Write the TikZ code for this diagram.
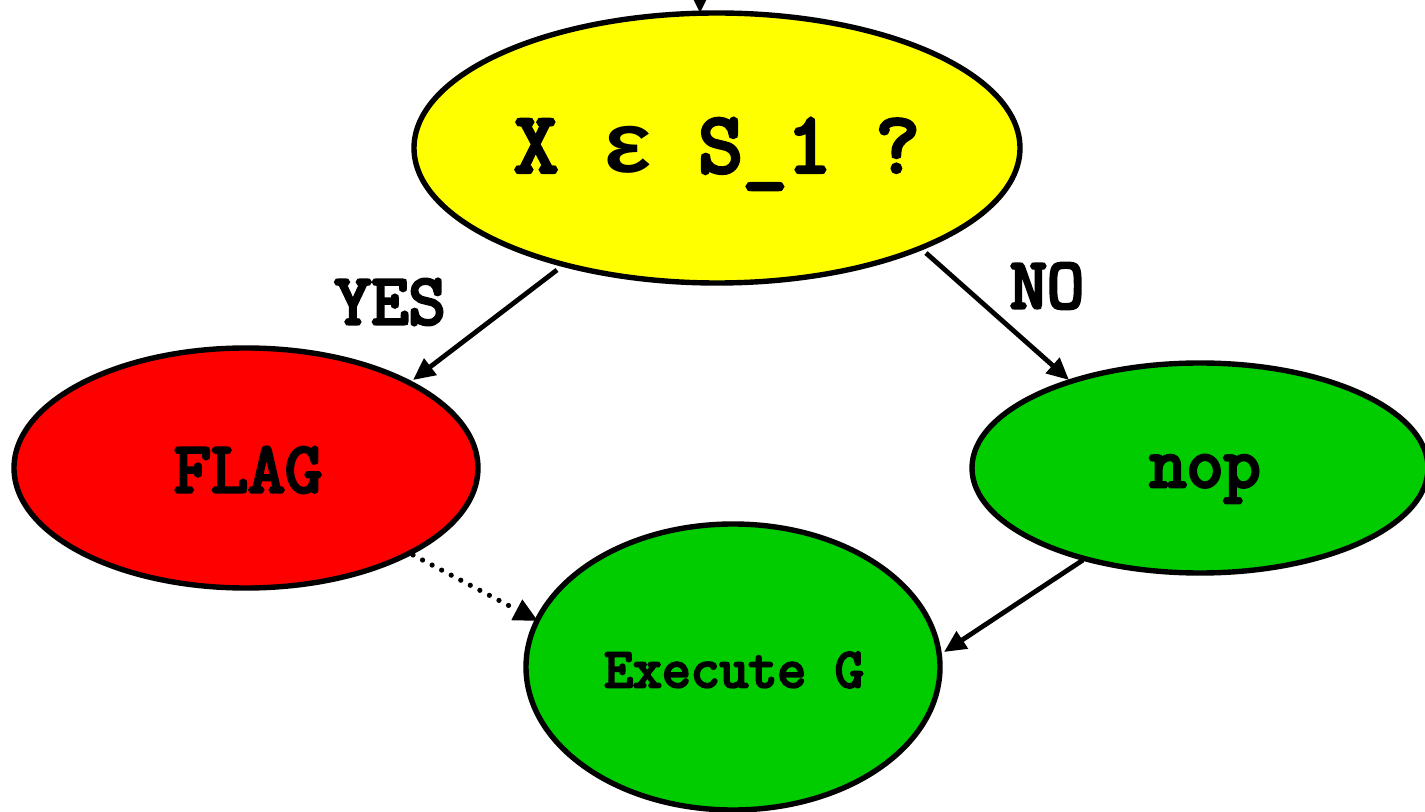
\documentclass[tikz,border=0pt]{standalone}
\usepackage{fontspec}
\newfontfamily\cour{Latin Modern Mono}[FakeBold=4.5]
\newfontfamily\grk{Liberation Mono}
\usetikzlibrary{arrows.meta}
\definecolor{leaf}{RGB}{0,204,0}
\definecolor{sun}{RGB}{255,255,0}
\definecolor{alarm}{RGB}{255,0,0}
\begin{document}
\begin{tikzpicture}[x=0.5pt,y=-0.5pt,
  oval/.style={line width=2.7pt},
  lbl/.style={font=\cour\fontsize{36}{40}\selectfont},
  link/.style={line width=2.4pt, -{Triangle[length=11pt,width=10pt]}}
]
\useasboundingbox (0,0) rectangle (1425,812);
\clip (0,0) rectangle (1425,812);
\fill[white] (0,0) rectangle (1425,812);

% ellipses
\draw[oval, fill=sun] (717,148) ellipse [x radius=303, y radius=135];
\draw[oval, fill=alarm] (246,468) ellipse [x radius=232, y radius=120];
\draw[oval, fill=leaf] (1200,468) ellipse [x radius=228, y radius=105];
\draw[oval, fill=leaf] (733,667) ellipse [x radius=207, y radius=143];

% texts
\node[font=\cour\fontsize{43}{47}\selectfont] (q) at (717,154) {X {\grk\bfseries ε} S\_1 ?};
\node[lbl] (flag) at (248,470) {FLAG};
\node[lbl] (nop) at (1205,479) {nop};
\node[font=\cour\fontsize{28}{32}\selectfont] (ex) at (734,670) {Execute G};
\node[lbl] (yes) at (390,302) {YES};
\node[lbl] (no) at (1047,286) {NO};

% connectors
\coordinate (in0) at (700,-40);
\coordinate (in1) at (700,13);
\coordinate (ya) at (557,270);
\coordinate (yb) at (413,380);
\coordinate (na) at (926,253);
\coordinate (nb) at (1069,380);
\coordinate (pa) at (1083,560);
\coordinate (pb) at (944,652);
\coordinate (fa) at (413,555);
\coordinate (fb) at (538,621);
\draw[link] (in0) -- (in1);
\draw[link] (ya) -- (yb);
\draw[link] (na) -- (nb);
\draw[link] (pa) -- (pb);
\draw[line width=2.6pt, line cap=round, dash pattern=on 0pt off 5.4pt, -{Triangle[length=12pt,width=11pt]}] (fa) -- (fb);
\end{tikzpicture}
\end{document}
